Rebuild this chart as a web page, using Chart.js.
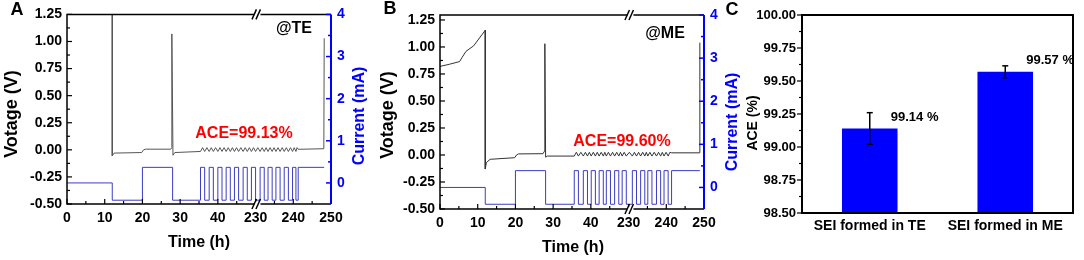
<!DOCTYPE html>
<html>
<head>
<meta charset="utf-8">
<script src="https://cdn.jsdelivr.net/npm/chart.js@4.4.1/dist/chart.umd.min.js"></script>
<style>
  html, body { margin: 0; padding: 0; background: #fff; }
  #wrap { position: relative; width: 1084px; height: 260px; overflow: hidden; }
  canvas { position: absolute; left: 0; top: 0; }
</style>
</head>
<body>
<div id="wrap">
  <canvas id="chartA" width="1084" height="260"></canvas>
  <canvas id="chartB" width="1084" height="260"></canvas>
  <canvas id="chartC" width="1084" height="260"></canvas>
</div>
<script>
// time axis is cut between 50 h and 230 h
const xTickLabels = ['0', '10', '20', '30', '40', '230', '240', '250'];
const breakFrom = 50, breakTo = 230;

// ---- panel A (@TE) ----
const voltTimeA = [12, 12, 12.5, 19.8, 20.3, 20.8, 27.5, 27.8, 27.8, 28.1, 28.6, 35.4,
  35.95, 36.5, 37.1, 37.7, 38.25, 38.8, 39.4, 40.0, 40.55, 41.1, 41.65, 42.2, 42.75,
  43.3, 43.85, 44.4, 44.95, 45.5, 46.1, 46.7, 47.25, 47.8, 48.35, 48.9, 49.45,
  230.0, 230.6, 231.2, 231.75, 232.3, 232.8, 233.3, 233.85, 234.4, 234.9, 235.4, 235.95,
  236.5, 237.05, 237.6, 238.15, 238.7, 239.25, 239.8, 240.25, 240.7, 241.0, 241.3,
  248.1, 248.2];
const voltA = [1.5, -0.055, -0.03, -0.025, 0.0, 0.006, 0.006, 0.02, 1.07, -0.05, -0.025, -0.015,
  0.02, -0.015, 0.02, -0.015, 0.02, -0.015, 0.02, -0.015, 0.02, -0.015, 0.02, -0.015, 0.02,
  -0.015, 0.02, -0.015, 0.02, -0.015, 0.02, -0.015, 0.02, -0.015, 0.02, -0.015, 0.02,
  -0.015, 0.02, -0.015, 0.02, -0.015, 0.02, -0.015, 0.02, -0.015, 0.02, -0.015, 0.02,
  -0.015, 0.02, -0.015, 0.02, -0.015, 0.02, -0.015, 0.02, -0.015, 0.02, 0.005,
  0.01, 1.03];
const curTimeA = [0, 12, 20, 28, 35.4, 36.5, 37.7, 38.8, 40.0, 41.1, 42.2, 43.3, 44.4, 45.5,
  46.7, 47.8, 48.9, 230.0, 231.2, 232.3, 233.3, 234.4, 235.4, 236.5, 237.6, 238.7, 239.8,
  240.7, 241.3, 248.2];
const curA = [0, -0.41, 0.37, -0.41, 0.37, -0.41, 0.37, -0.41, 0.37, -0.41, 0.37, -0.41, 0.37, -0.41,
  0.37, -0.41, 0.37, -0.41, 0.37, -0.41, 0.37, -0.41, 0.37, -0.41, 0.37, -0.41, 0.37,
  -0.41, 0.37, 0.37];

// ---- panel B (@ME) ----
const voltTimeB = [0, 2.5, 5.2, 5.8, 6.9, 8.9, 12.0, 12.0, 12.3, 13.3, 19.8, 20.3, 20.8, 27.3,
  27.7, 27.8, 28.0, 28.5, 35.6,
  36.15, 36.7, 37.35, 38.0, 38.55, 39.1, 39.6, 40.1, 40.65, 41.2, 41.7, 42.2, 42.75, 43.3,
  43.7, 44.1, 44.65, 45.2, 45.75, 46.3, 46.85, 47.4, 47.85, 48.3, 48.85, 49.4,
  230.2, 231.0, 231.55, 232.1, 232.65, 233.2, 233.75, 234.3, 234.7, 235.1, 235.65, 236.2,
  236.8, 237.4, 237.95, 238.5, 238.95, 239.4, 239.95, 240.5, 240.95, 241.4,
  248.8, 248.9];
const voltB = [0.82, 0.84, 0.865, 0.9, 0.96, 1.01, 1.155, -0.13, -0.07, -0.04, -0.025, 0.0, 0.01, 0.012,
  0.035, 1.03, -0.02, -0.01, -0.01,
  0.025, -0.01, 0.025, -0.01, 0.025, -0.01, 0.025, -0.01, 0.025, -0.01, 0.025, -0.01, 0.025, -0.01,
  0.025, -0.01, 0.025, -0.01, 0.025, -0.01, 0.025, -0.01, 0.025, -0.01, 0.025, -0.01,
  0.025, -0.01, 0.025, -0.01, 0.025, -0.01, 0.025, -0.01, 0.025, -0.01, 0.025, -0.01,
  0.025, -0.01, 0.025, -0.01, 0.025, -0.01, 0.025, -0.01, 0.025, 0.02,
  0.02, 1.04];
const curTimeB = [0, 12, 20, 28, 35.6, 36.7, 38.0, 39.1, 40.1, 41.2, 42.2, 43.3, 44.1, 45.2,
  46.3, 47.4, 48.3, 49.4, 231.0, 232.1, 233.2, 234.3, 235.1, 236.2, 237.4, 238.5, 239.4,
  240.5, 241.4, 248.9];
const curB = [0, -0.39, 0.39, -0.39, 0.39, -0.39, 0.39, -0.39, 0.39, -0.39, 0.39, -0.39, 0.39, -0.39,
  0.39, -0.39, 0.39, -0.39, 0.39, -0.39, 0.39, -0.39, 0.39, -0.39, 0.39, -0.39, 0.39,
  -0.39, 0.39, 0.39];

// ---- panel C ----
const aceLabels = ['SEI formed in TE', 'SEI formed in ME'];
const aceValues = [99.14, 99.57];
const aceErrors = [0.12, 0.045];

const FONT = '"Liberation Sans", Arial, sans-serif';
Chart.defaults.font.family = FONT;
Chart.defaults.font.weight = 'bold';
Chart.defaults.color = '#000';

const toAxis = t => (t < breakTo ? t : t - (breakTo - breakFrom));
const pts = (ts, vs) => ts.map((t, i) => ({ x: toAxis(t), y: vs[i] }));

function text(ctx, str, x, y, size, color, rot) {
  ctx.save();
  ctx.font = 'bold ' + size + 'px ' + FONT;
  ctx.fillStyle = color || '#000';
  ctx.textAlign = 'center';
  ctx.textBaseline = 'middle';
  ctx.translate(x, y);
  if (rot) ctx.rotate(rot);
  ctx.fillText(str, 0, 0);
  ctx.restore();
}

function line(ctx, x1, y1, x2, y2) {
  ctx.beginPath(); ctx.moveTo(x1, y1); ctx.lineTo(x2, y2); ctx.stroke();
}

// ticks with a minor tick half way
function ticksAlong(ctx, scale, vals, at, dir, vertical) {
  const p = v => scale.getPixelForValue(v);
  vals.forEach((v, i) => {
    const q = p(v);
    if (vertical) line(ctx, at, q, at + dir * 5, q); else line(ctx, q, at, q, at + dir * 5);
    if (i < vals.length - 1) {
      const m = p((v + vals[i + 1]) / 2);
      if (vertical) line(ctx, at, m, at + dir * 3, m); else line(ctx, m, at, m, at + dir * 3);
    }
  });
}

const deco = {
  id: 'deco',
  afterDraw(chart, args, o) {
    const { ctx, chartArea: a, scales } = chart;
    ctx.save();
    if (o.kind === 'trace') {
      ctx.strokeStyle = '#000';
      ctx.lineWidth = 1.5;
      ctx.beginPath();
      ctx.moveTo(a.right, a.top); ctx.lineTo(a.left, a.top);
      ctx.lineTo(a.left, a.bottom); ctx.lineTo(a.right, a.bottom);
      ctx.stroke();
      ctx.lineWidth = 1.2;
      ticksAlong(ctx, scales.y, scales.y.ticks.map(t => t.value), a.left, 1, true);
      ticksAlong(ctx, scales.x, scales.x.ticks.map(t => t.value), a.bottom, -1, false);
      ctx.strokeStyle = '#0000ff';
      ctx.lineWidth = 2;
      line(ctx, a.right, a.top, a.right, a.bottom);
      ctx.lineWidth = 1.5;
      ticksAlong(ctx, scales.y1, scales.y1.ticks.map(t => t.value), a.right, -1, true);
      // axis break marks
      const bx = scales.x.getPixelForValue(50.5);
      [a.top, a.bottom].forEach(by => {
        ctx.fillStyle = '#fff';
        ctx.fillRect(bx - 3, by - 2, 6, 4);
        ctx.strokeStyle = '#000';
        ctx.lineWidth = 1.5;
        line(ctx, bx - 5.5, by + 5, bx - 1, by - 5);
        line(ctx, bx - 1.5, by + 5, bx + 3, by - 5);
      });
    } else {
      ctx.strokeStyle = '#000';
      ctx.lineWidth = 2;
      ctx.strokeRect(a.left, a.top, a.right - a.left, a.bottom - a.top);
      ctx.lineWidth = 1.2;
      ticksAlong(ctx, scales.y, scales.y.ticks.map(t => t.value), a.left, -1, true);
      // error bars and value labels
      const meta = chart.getDatasetMeta(0);
      ctx.lineWidth = 1.5;
      meta.data.forEach((bar, i) => {
        const v = aceValues[i], e = aceErrors[i];
        const hi = scales.y.getPixelForValue(v + e), lo = scales.y.getPixelForValue(v - e);
        line(ctx, bar.x, hi, bar.x, lo);
        line(ctx, bar.x - 3, hi, bar.x + 3, hi);
        line(ctx, bar.x - 3, lo, bar.x + 3, lo);
        ctx.font = 'bold 13px ' + FONT;
        ctx.fillStyle = '#000';
        ctx.textAlign = 'left';
        ctx.textBaseline = 'middle';
        ctx.fillText(v.toFixed(2) + ' %', bar.x + 21, scales.y.getPixelForValue(v) - 11);
      });
    }
    (o.texts || []).forEach(t => text(ctx, t[0], t[1], t[2], t[3], t[4], t[5]));
    ctx.restore();
  }
};

const tickFont = { size: 14, weight: 'bold', family: FONT };
const UP = -Math.PI / 2;

function traceChart(id, v, c, lay) {
  return new Chart(document.getElementById(id), {
    type: 'line',
    data: {
      datasets: [
        { data: v, yAxisID: 'y', borderColor: lay.vColor, borderWidth: 1, pointRadius: 0, tension: 0 },
        { data: c, yAxisID: 'y1', borderColor: '#3c3cc8', borderWidth: 1, pointRadius: 0, stepped: true }
      ]
    },
    options: {
      responsive: false, animation: false, devicePixelRatio: 1,
      layout: { padding: { left: lay.padL, right: lay.padR, top: lay.top, bottom: 0 } },
      plugins: { legend: { display: false }, tooltip: { enabled: false }, deco: { kind: 'trace', texts: lay.texts } },
      scales: {
        x: {
          type: 'linear', min: 0, max: 70,
          ticks: { stepSize: 10, autoSkip: false, maxRotation: 0, padding: 6, font: tickFont,
                   callback: (val, i) => xTickLabels[i] },
          grid: { display: false, drawTicks: false }, border: { display: false },
          afterFit: s => { s.height = 260 - lay.bottom; }
        },
        y: {
          position: 'left', min: -0.5, max: lay.vMax,
          afterBuildTicks: s => { s.ticks = [-0.5, -0.25, 0, 0.25, 0.5, 0.75, 1, 1.25].map(value => ({ value })); },
          ticks: { padding: 5, font: tickFont, callback: val => val.toFixed(2) },
          grid: { display: false, drawTicks: false }, border: { display: false },
          afterFit: s => { s.width = lay.left - lay.padL; }
        },
        y1: {
          position: 'right', min: -0.5, max: 4,
          afterBuildTicks: s => { s.ticks = [0, 1, 2, 3, 4].map(value => ({ value })); },
          ticks: { padding: 6, font: tickFont, color: '#0000ff' },
          grid: { display: false, drawTicks: false }, border: { display: false },
          afterFit: s => { s.width = (1084 - lay.padR) - lay.right; }
        }
      }
    },
    plugins: [deco]
  });
}

traceChart('chartA', pts(voltTimeA, voltA), pts(curTimeA, curA), {
  padL: 0, padR: 1084 - 380, left: 67, right: 331, top: 11, bottom: 204, vMax: 1.25, vColor: '#555',
  texts: [
    ['A', 17, 10, 18], ['@TE', 294, 29, 16], ['ACE=99.13%', 244, 134, 16, '#ff0000'],
    ['Time (h)', 199, 243, 16], ['Votage (V)', 12, 114, 18, '#000', UP],
    ['Current (mA)', 360, 116, 16, '#0000ff', UP]
  ]
});

traceChart('chartB', pts(voltTimeB, voltB), pts(curTimeB, curB), {
  padL: 370, padR: 1084 - 750, left: 440, right: 704, top: 15, bottom: 209, vMax: 1.296, vColor: '#333',
  texts: [
    ['B', 390, 9, 18], ['@ME', 665, 34, 16], ['ACE=99.60%', 622, 142, 16, '#ff0000'],
    ['Time (h)', 573, 248, 16], ['Votage (V)', 388, 115, 18, '#000', UP],
    ['Current (mA)', 733, 122, 16, '#0000ff', UP]
  ]
});

new Chart(document.getElementById('chartC'), {
  type: 'bar',
  data: {
    labels: aceLabels,
    datasets: [{ data: aceValues, backgroundColor: '#0000ff', borderWidth: 0, barPercentage: 0.41, categoryPercentage: 1 }]
  },
  options: {
    responsive: false, animation: false, devicePixelRatio: 1,
    layout: { padding: { left: 740, right: 11, top: 15, bottom: 0 } },
    plugins: {
      legend: { display: false }, tooltip: { enabled: false },
      deco: { kind: 'bars', texts: [['C', 732, 10, 18], ['ACE (%)', 753, 123, 14, '#000', UP]] }
    },
    scales: {
      x: {
        ticks: { padding: 5, maxRotation: 0, font: { size: 14, weight: 'bold', family: FONT } },
        grid: { display: false, drawTicks: false }, border: { display: false },
        afterFit: s => { s.height = 260 - 213; }
      },
      y: {
        min: 98.5, max: 100,
        ticks: { stepSize: 0.25, padding: 6, font: { size: 13, weight: 'bold', family: FONT }, callback: val => val.toFixed(2) },
        grid: { display: false, drawTicks: false }, border: { display: false },
        afterFit: s => { s.width = 802 - 740; }
      }
    }
  },
  plugins: [deco]
});
</script>
</body>
</html>
